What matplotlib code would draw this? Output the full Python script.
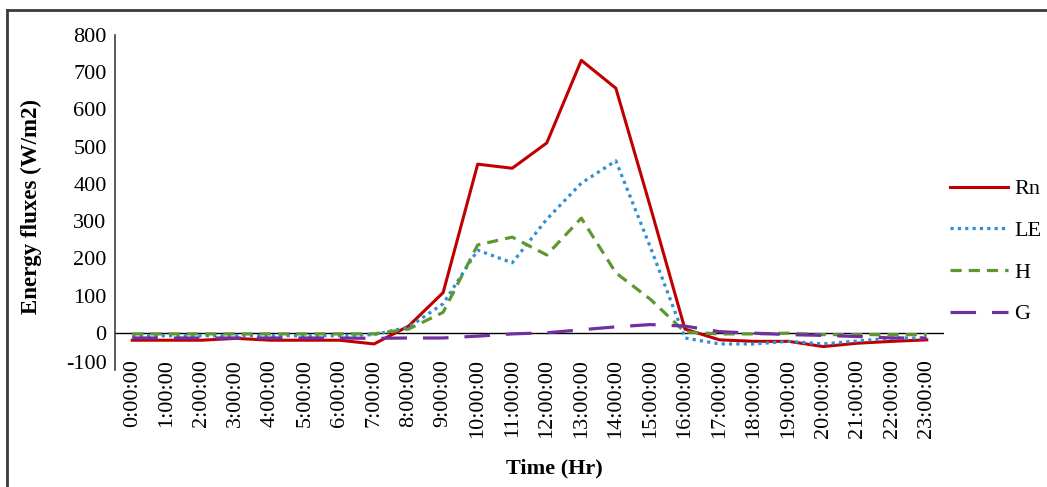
import matplotlib.pyplot as plt
import matplotlib.transforms as mtransforms
from matplotlib.lines import Line2D
import numpy as np

plt.rcParams['font.family'] = ['Liberation Serif', 'DejaVu Serif']
plt.rcParams['axes.unicode_minus'] = False

# hourly energy fluxes (W/m2)
hours = [f'{h}:00:00' for h in range(24)]
rn = [-20, -20, -20, -15, -20, -20, -20, -30, 18, 108, 453, 442, 510, 732,
      657, 338, 10, -19, -23, -23, -37, -28, -23, -19]
le = [-8, -8, -8, -8, -8, -8, -8, -5, 15, 78, 222, 188, 305, 402,
      462, 230, -14, -30, -30, -23, -30, -22, -14, -14]
h_flux = [-3, -3, -3, -3, -3, -3, -3, -3, 10, 55, 236, 257, 209, 308,
          161, 90, 2, -3, -3, -1, -5, -5, -5, -5]
g_flux = [-14, -14, -14, -14, -14, -14, -14, -15, -14, -14, -9, -3, 0, 8,
          16, 22, 18, 3, -1, -5, -7, -10, -14, -14]
yticks = list(range(-100, 900, 100))

W, H = 1047, 487
fig = plt.figure(figsize=(W / 100, H / 100), dpi=100)
ax = fig.add_axes([115 / W, 1 - 370 / H, (944 - 115) / W, (370 - 35) / H])

x = np.arange(len(hours))
l_rn, = ax.plot(x, rn, color='#C00000', lw=2.2, label='Rn')
l_le, = ax.plot(x, le, color='#2E8FD6', lw=2.3, linestyle=(0, (1, 1.3)), label='LE')
l_h, = ax.plot(x, h_flux, color='#5E9732', lw=2.3, linestyle=(0, (3.5, 2.2)), label='H')
l_g, = ax.plot(x, g_flux, color='#7030A0', lw=2.3, linestyle=(0, (8, 5)), label='G')

ax.axhline(0, color='black', lw=1.0, zorder=1)

ax.set_xlim(-0.5, 23.5)
ax.set_ylim(-100, 800)
ax.set_yticks(yticks)
ax.set_xticks(x)
ax.set_xticklabels(hours, rotation=90, ha='center', va='top')
ax.tick_params(axis='both', length=0, labelsize=16)
ax.tick_params(axis='x', pad=-8)
ax.tick_params(axis='y', pad=6)

# the -100 label sits a bit higher in the original
lbl = ax.get_yticklabels()[0]
lbl.set_transform(lbl.get_transform() +
                  mtransforms.ScaledTranslation(0, 8 / 100, fig.dpi_scale_trans))

for s in ['top', 'right', 'bottom']:
    ax.spines[s].set_visible(False)
ax.spines['left'].set_color('#404040')
ax.spines['left'].set_linewidth(1.2)

fig.text(31 / W, 1 - 207 / H, 'Energy fluxes (W/m2)', rotation=90,
         ha='center', va='center', fontsize=16.5, fontweight='bold')
fig.text(554 / W, 1 - 468 / H, 'Time (Hr)', ha='center', va='center',
         fontsize=16, fontweight='bold')

fig.legend(handles=[l_rn, l_le, l_h, l_g], loc='upper left',
           bbox_to_anchor=(941 / W, 1 - 170 / H), frameon=False,
           fontsize=16, handlelength=2.6, handletextpad=0.3,
           labelspacing=0.95, borderaxespad=0)

# outer frame
fig.add_artist(Line2D([7 / W, 7 / W], [0, 1 - 10 / H], transform=fig.transFigure,
                      color='#3a3a3a', lw=2.0))
fig.add_artist(Line2D([7 / W, 1], [1 - 10 / H, 1 - 10 / H], transform=fig.transFigure,
                      color='#3a3a3a', lw=2.0))

fig.savefig('out.png', dpi=100)
